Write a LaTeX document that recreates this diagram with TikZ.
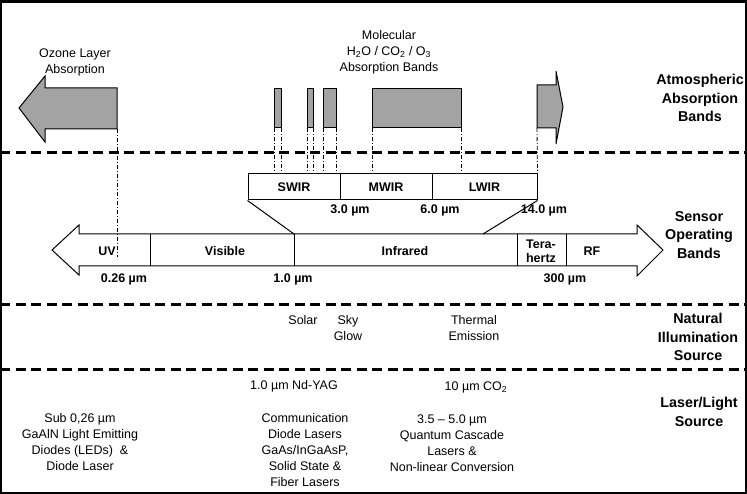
\documentclass[tikz,border=0pt]{standalone}
\usepackage{fontspec}
\setmainfont{Liberation Sans}
\definecolor{bandgray}{RGB}{163,163,163}
\tikzset{
  txt/.style={inner sep=0pt, align=center, font=\fontsize{12.5}{16}\selectfont},
  btxt/.style={inner sep=0pt, align=center, font=\fontsize{12.5}{14}\selectfont\bfseries},
  head/.style={inner sep=0pt, align=center, font=\fontsize{14.3}{18.5}\selectfont\bfseries},
  outline/.style={draw=black, line width=1pt, line join=miter},
  grayshape/.style={outline, fill=bandgray},
  sepline/.style={line width=3pt, dash pattern=on 10pt off 5.5pt},
  guide/.style={line width=0.8pt, dash pattern=on 4pt off 2pt on 1pt off 2pt},
}
\begin{document}
\begin{tikzpicture}[x=1pt,y=-1pt]
\useasboundingbox (0,0) rectangle (747,494);
% frame
\draw[line width=2pt] (1,1.5) -- (1,493) -- (746,493) -- (746,1.5);
\draw[line width=3pt] (0,1.5) -- (747,1.5);
% separators
\draw[sepline] (0,153) -- (747,153);
\draw[sepline] (0,305) -- (747,305);
\draw[sepline] (0,369) -- (747,369);

% --- Atmospheric absorption ---
\draw[grayshape] (19,108) -- (45,76) -- (45,88) -- (117,88) coordinate (ozR) -- (117,129) coordinate (ozB) -- (45,129) -- (45,142) -- cycle;
\draw[grayshape] (274,89) rectangle (281,128);
\draw[grayshape] (307,89) rectangle (313,128);
\draw[grayshape] (323,89) rectangle (336,128);
\draw[grayshape] (372,89) rectangle (461,128);
\draw[grayshape] (537,85) -- (556,85) -- (556,71) -- (563,107) -- (556,144) -- (556,128) -- (537,128) coordinate (raB) -- cycle;

\node[txt] (ozone) at (75,62) {Ozone Layer\\Absorption};
\node[txt] (molec) at (389,52) {Molecular\\H\textsubscript{2}O / CO\textsubscript{2} / O\textsubscript{3}\\Absorption Bands};
\node[head] (hAtm) at (700,98) {Atmospheric\\Absorption\\Bands};

% --- Sensor operating bands ---
\node[outline, minimum width=92pt, minimum height=26pt, inner sep=0pt, font=\fontsize{12.5}{14}\selectfont\bfseries] (swir) at (294,187) {SWIR};
\node[outline, minimum width=92pt, minimum height=26pt, inner sep=0pt, font=\fontsize{12.5}{14}\selectfont\bfseries] (mwir) at (386,187) {MWIR};
\node[outline, minimum width=105pt, minimum height=26pt, inner sep=0pt, font=\fontsize{12.5}{14}\selectfont\bfseries] (lwir) at (484.5,187) {LWIR};

\node[btxt] (l3) at (350,210) {3.0 µm};
\node[btxt] (l6) at (440,210) {6.0 µm};

% guide lines from absorption bands
\foreach \xx in {274,281,307,313,323,336,372,461}
  \draw[guide] (\xx,128) -- (\xx,174);
\draw[guide] (raB) -- (lwir.north east);

% main double arrow
\draw[outline] (52,250) -- (79,225) -- (79,234) -- (637,234) -- (637,225) -- (663,250) -- (637,276) -- (637,266) -- (79,266) -- (79,275) -- cycle;
\coordinate (d1t) at (150,234); \coordinate (d1b) at (150,266);
\coordinate (d2t) at (294,234); \coordinate (d2b) at (294,266);
\coordinate (d3t) at (517,234); \coordinate (d3b) at (517,266);
\coordinate (d4t) at (566,234); \coordinate (d4b) at (566,266);
\draw[outline] (d1t) -- (d1b) (d2t) -- (d2b) (d3t) -- (d3b) (d4t) -- (d4b);
\coordinate (irR) at (483,234);
\draw[line width=1pt] (swir.south west) -- (d2t);
\draw[line width=1pt] (irR) -- (lwir.south east);
\node[btxt] (l14) at (544,210) {14.0 µm};

\coordinate (uvG) at (117,257);
\draw[guide] (ozB) -- (uvG);

\node[btxt] (uv) at (107,251) {UV};
\node[btxt] (vis) at (225,251) {Visible};
\node[btxt] (ir) at (405,251) {Infrared};
\node[btxt] (thz) at (541,251) {Tera-\\hertz};
\node[btxt] (rf) at (592,251) {RF};
\node[btxt] (l026) at (124,279) {0.26 µm};
\node[btxt] (l1) at (293,279) {1.0 µm};
\node[btxt] (l300) at (565,279) {300 µm};
\node[head] (hSen) at (699,235) {Sensor\\Operating\\Bands};

% --- Natural illumination ---
\node[txt] (solar) at (303,320) {Solar};
\node[txt] (sky) at (348,328) {Sky\\Glow};
\node[txt] (therm) at (474,328) {Thermal\\Emission};
\node[head] (hNat) at (698,337) {Natural\\Illumination\\Source};

% --- Laser / light source ---
\node[txt] (ndyag) at (294,386) {1.0 µm Nd-YAG};
\node[txt] (co2) at (476,387) {10 µm CO\textsubscript{2}};
\node[txt] (led) at (80,442) {Sub 0,26 µm\\GaAlN Light Emitting\\Diodes (LEDs)\ \ \&\\Diode Laser};
\node[txt] (comm) at (305,450) {Communication\\Diode Lasers\\GaAs/InGaAsP,\\Solid State \&\\Fiber Lasers};
\node[txt] (qcl) at (452,443) {3.5 – 5.0 µm\\Quantum Cascade\\Lasers \&\\Non-linear Conversion};
\node[head] (hLas) at (699,412) {Laser/Light\\Source};
\end{tikzpicture}
\end{document}
